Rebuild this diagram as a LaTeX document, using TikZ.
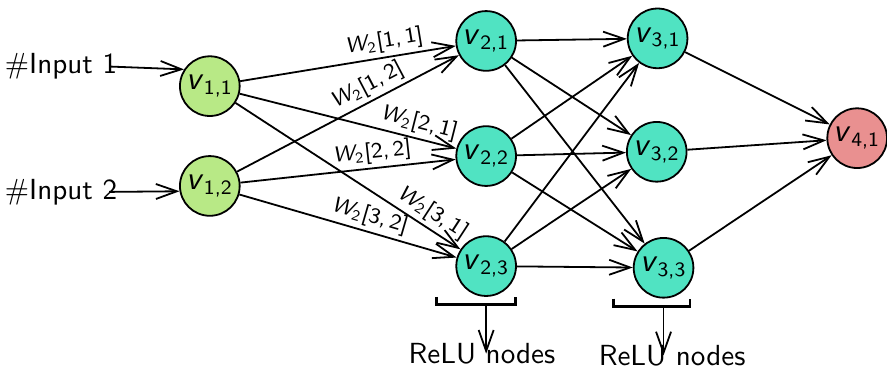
\documentclass[tikz,border=0pt]{standalone}
\usepackage{amsmath}
\usetikzlibrary{arrows.meta, positioning, calc}
\definecolor{nngreen}{HTML}{B8E986}
\definecolor{nnteal}{HTML}{50E3C2}
\definecolor{nnred}{HTML}{E99090}
\newcommand{\nv}[1]{\textit{\fontsize{11}{13}\selectfont v}$_{\textsf{#1}}$}
\newcommand{\wt}[2]{$\textit{W}_{\textsf{2}}$[#1,\,#2]}

\begin{document}
\begin{tikzpicture}[
  font=\fontsize{9.7}{11.6}\selectfont\sffamily,
  neuron/.style={circle, draw, semithick, fill=#1, minimum size=0.7cm, inner sep=0pt},
  wire/.style={semithick, -{Straight Barb[length=7pt, width=5pt]}},
  wlabel/.style={sloped, above, inner sep=1.2pt, font=\fontsize{7.3}{8.8}\selectfont\sffamily},
  inlabel/.style={anchor=east, inner sep=0pt},
]
  \useasboundingbox (0,0) rectangle (10.4,4.3);

  \node[neuron=nngreen] (v11) at (2.46,3.29) {\nv{1,1}};
  \node[neuron=nngreen] (v12) at (2.46,2.12) {\nv{1,2}};
  \node[neuron=nnteal] (v21) at (5.70,3.82) {\nv{2,1}};
  \node[neuron=nnteal] (v22) at (5.70,2.47) {\nv{2,2}};
  \node[neuron=nnteal] (v23) at (5.70,1.18) {\nv{2,3}};
  \node[neuron=nnteal] (v31) at (7.71,3.85) {\nv{3,1}};
  \node[neuron=nnteal] (v32) at (7.70,2.52) {\nv{3,2}};
  \node[neuron=nnteal] (v33) at (7.78,1.16) {\nv{3,3}};
  \node[neuron=nnred] (v41) at (10.05,2.68) {\nv{4,1}};

  \node[inlabel] (in1) at (1.38,3.52) {\#Input 1};
  \node[inlabel] (in2) at (1.38,2.05) {\#Input 2};
  \draw[wire] ([xshift=-1mm]in1.east) -- (v11.147);
  \draw[wire] ([xshift=-1mm]in2.east) -- (v12.190);

  % weighted edges into layer 2
  \draw[wire] (v11) -- (v21) node[wlabel, pos=0.68] {\wt{1}{1}};
  \draw[wire] (v12) -- (v21) node[wlabel, pos=0.62] {\wt{1}{2}};
  \draw[wire] (v11) -- (v22) node[wlabel, pos=0.81] {\wt{2}{1}};
  \draw[wire] (v12) -- (v22) node[wlabel, pos=0.62] {\wt{2}{2}};
  \draw[wire] (v11) -- (v23) node[wlabel, pos=0.84] {\wt{3}{1}};
  \draw[wire] (v12) -- (v23) node[wlabel, pos=0.58] {\wt{3}{2}};

  \draw[wire] (v21) -- (v31);
  \draw[wire] (v21) -- (v32);
  \draw[wire] (v21) -- (v33);
  \draw[wire] (v22) -- (v31);
  \draw[wire] (v22) -- (v32);
  \draw[wire] (v22) -- (v33);
  \draw[wire] (v23) -- (v31);
  \draw[wire] (v23) -- (v32);
  \draw[wire] (v23) -- (v33);

  \draw[wire] (v31) -- (v41);
  \draw[wire] (v32) -- (v41);
  \draw[wire] (v33) -- (v41);

  % ReLU brackets
  \coordinate (b1) at ($(v23.south)+(0,-0.09)$);
  \draw[line width=1pt] ($(b1)+(-0.58,0.09)$) -- ($(b1)+(-0.58,0)$) -- ($(b1)+(0.34,0)$) -- ($(b1)+(0.34,0.09)$);
  \node[below=0.33cm of b1, xshift=-0.5mm] (relu1) {ReLU nodes};
  \draw[wire] (b1) -- (b1 |- relu1.center);

  \coordinate (b2) at ($(v33.south)+(0,-0.09)$);
  \draw[line width=1pt] ($(b2)+(-0.59,0.09)$) -- ($(b2)+(-0.59,0)$) -- ($(b2)+(0.31,0)$) -- ($(b2)+(0.31,0.09)$);
  \node[below=0.33cm of b2, xshift=1mm] (relu2) {ReLU nodes};
  \draw[wire] (b2) -- (b2 |- relu2.center);
\end{tikzpicture}
\end{document}
